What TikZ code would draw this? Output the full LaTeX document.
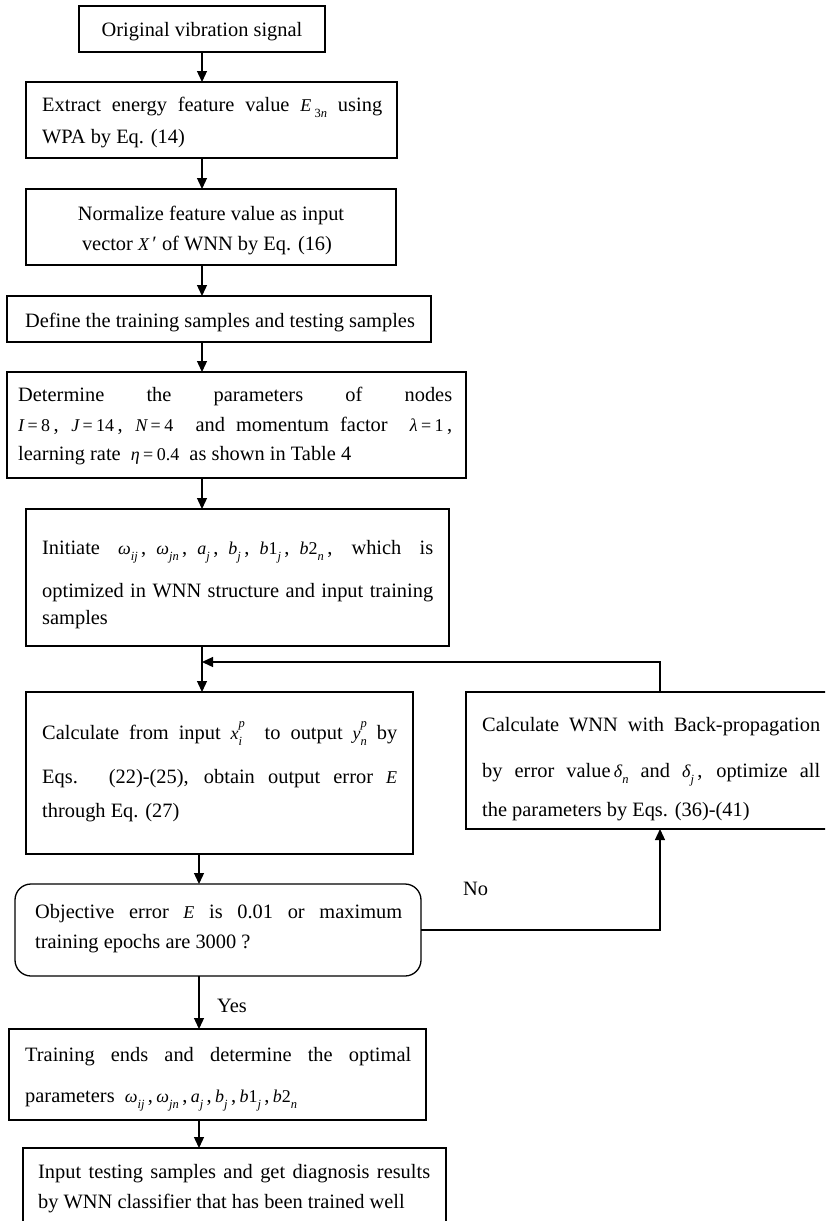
\documentclass[tikz,border=0pt]{standalone}
\usepackage{fontspec}
\setmainfont{Liberation Serif}
\usetikzlibrary{arrows.meta,fit}
\newcommand\mth[1]{{\fontsize{18}{18}\selectfont\itshape #1}}
\newcommand\mup[1]{{\fontsize{18}{18}\selectfont #1}}
\newcommand\lo[1]{\raisebox{-0.3em}{\fontsize{12.5}{12.5}\selectfont\itshape #1}}
\newcommand\loup[1]{\raisebox{-0.3em}{\fontsize{12.5}{12.5}\selectfont #1}}
\newcommand\hi[1]{\raisebox{0.55em}{\fontsize{12.5}{12.5}\selectfont\itshape #1}}
\newcommand\lohi[2]{\rlap{\lo{#1}}\hi{#2}}
\newcommand\jl[2]{\hbox to #1pt{#2}}
\newcommand\params{\mth{ω}\lo{ij}\,,\,\mth{ω}\lo{jn}\,,\,\mth{a}\lo{j}\,,\,\mth{b}\lo{j}\,,\,\mth{b}\mup{1}\lo{j}\,,\,\mth{b}\mup{2}\lo{n}}
\begin{document}
\begin{tikzpicture}[x=1pt,y=-1pt,
  box/.style={draw,line width=1.3pt,inner sep=0pt,outer sep=0pt},
  rbox/.style={box,rounded corners=16pt},
  txt/.style={inner sep=0pt,anchor=base west,font=\fontsize{20.4}{24}\selectfont},
  ctxt/.style={txt,anchor=base},
  arr/.style={line width=1.3pt,-{Triangle[length=11pt,width=10pt]}},
  ln/.style={line width=1.3pt}]
\useasboundingbox (0,0) rectangle (825,1221);
\begin{scope}
\clip (0,0) rectangle (825,1221);
% boxes
\node[box,fit={(79,6) (325,52)}] (b1) {};
\node[box,fit={(26,82) (397,158)}] (b2) {};
\node[box,fit={(26,189) (396,265)}] (b3) {};
\node[box,fit={(7,296) (431,342)}] (b4) {};
\node[box,fit={(7,372) (466,478)}] (b5) {};
\node[box,fit={(26,509) (449,646)}] (b6) {};
\node[box,fit={(26,692) (413,854)}] (b7) {};
\node[box,fit={(466,692) (840,829)}] (b8) {};
\node[rbox,fit={(15,884) (421,976)}] (dec) {};
\node[box,fit={(9,1029) (426,1120)}] (b9) {};
\node[box,fit={(23,1148) (446,1260)}] (b10) {};
% texts
\node[ctxt] (t1) at (202,36) {Original vibration signal};
\node[txt] (t2a) at (42,111) {\jl{340}{Extract energy feature value \mth{E}\,\loup{3}\lo{n} using}};
\node[txt] (t2b) at (42,143) {WPA by Eq. (14)};
\node[ctxt] (t3a) at (211,220) {Normalize feature value as input};
\node[ctxt] (t3b) at (207,250) {vector \mth{X}\,′ of WNN by Eq. (16)};
\node[ctxt] (t4) at (220,327) {Define the training samples and testing samples};
\node[txt] (t5a) at (18,401) {\jl{434}{Determine the parameters of nodes}};
\node[txt] (t5b) at (18,431) {\jl{434}{\mth{I}\,\mup{=}\,\mup{8}\,, \mth{J}\,\mup{=}\,\mup{14}\,, \mth{N}\,\mup{=}\,\mup{4} \ and momentum factor \ \mth{λ}\,\mup{=}\,\mup{1}\,,}};
\node[txt] (t5c) at (18,460) {learning rate \ \mth{η}\,\mup{=}\,\mup{0.4} \ as shown in Table 4};
\node[txt] (t6a) at (42,554) {\jl{391}{Initiate \ \mth{ω}\lo{ij}\,, \mth{ω}\lo{jn}\,, \mth{a}\lo{j}\,, \mth{b}\lo{j}\,, \mth{b}\mup{1}\lo{j}\,, \mth{b}\mup{2}\lo{n}\,, \ which \ is}};
\node[txt] (t6b) at (42,597) {\jl{391}{optimized in WNN structure and input training}};
\node[txt] (t6c) at (42,624) {samples};
\node[txt] (t7a) at (42,739) {\jl{355}{Calculate from input \mth{x}\lohi{i}{p} \ to output \mth{y}\lohi{n}{p} by}};
\node[txt] (t7b) at (42,783) {\jl{355}{Eqs. (22)-(25), obtain output error \mth{E}}};
\node[txt] (t7c) at (42,817) {through Eq. (27)};
\node[txt] (t8a) at (482,731) {\jl{338}{Calculate WNN with Back-propagation}};
\node[txt] (t8b) at (482,777) {\jl{338}{by error value\,\mth{δ}\lo{n} and \mth{δ}\lo{j}\,, optimize all}};
\node[txt] (t8c) at (482,816) {the parameters by Eqs. (36)-(41)};
\node[txt] (t9a) at (35,918) {\jl{367}{Objective error \mth{E} is 0.01 or maximum}};
\node[txt] (t9b) at (35,948) {training epochs are 3000 ?};
\node[txt] (t10a) at (25,1061) {\jl{386}{Training ends and determine the optimal}};
\node[txt] (t10b) at (25,1102) {parameters \ \params};
\node[txt] (t11a) at (38,1178) {\jl{392}{Input testing samples and get diagnosis results}};
\node[txt] (t11b) at (38,1208) {by WNN classifier that has been trained well};
\node[txt] (yes) at (217,1012) {Yes};
\node[txt] (no) at (463,895) {No};
% connectors
\coordinate (ax) at (202,0);
\coordinate (ax2) at (199,0);
\coordinate (fb) at (660,662);
\draw[arr] (b1.south) -- (b1.south |- b2.north);
\draw[arr] (ax |- b2.south) -- (ax |- b3.north);
\draw[arr] (ax |- b3.south) -- (ax |- b4.north);
\draw[arr] (ax |- b4.south) -- (ax |- b5.north);
\draw[arr] (ax |- b5.south) -- (ax |- b6.north);
\draw[arr] (ax |- b6.south) -- (ax |- b7.north);
\draw[arr] (fb |- b8.north) -- (fb) -- (ax |- fb);
\draw[arr] (ax2 |- b7.south) -- (ax2 |- dec.north);
\draw[arr] (ax2 |- dec.south) -- (ax2 |- b9.north);
\draw[arr] (ax2 |- b9.south) -- (ax2 |- b10.north);
\draw[arr] (dec.east) -- (fb |- dec.east) -- (fb |- b8.south);
\end{scope}
\end{tikzpicture}
\end{document}
